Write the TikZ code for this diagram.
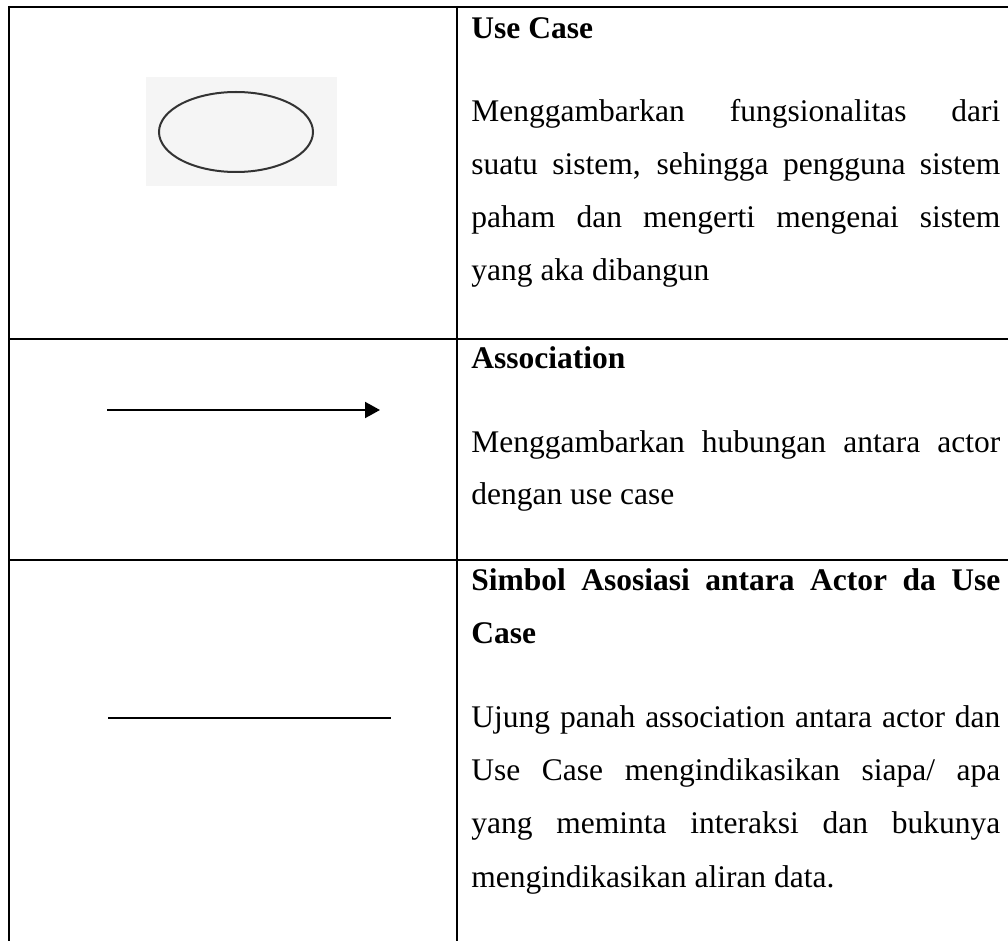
\documentclass[tikz,border=0pt]{standalone}
\usepackage{fontspec}
\setmainfont{Liberation Serif}
\usetikzlibrary{arrows.meta}
\newcommand\jline[1]{\makebox[264.5pt][s]{#1}}
\definecolor{bgGrey}{HTML}{F5F5F5}
\definecolor{ellGrey}{HTML}{333333}
\begin{document}
\begin{tikzpicture}[x=0.5pt,y=-0.5pt,
  rule/.style={line width=1pt, black},
  txt/.style={anchor=base west, inner sep=0pt, font=\fontsize{15.75}{18}\selectfont},
  head/.style={txt, font=\fontsize{15.75}{18}\selectfont\bfseries},
  sym/.style={line width=1pt, black},
]
\useasboundingbox (0,0) rectangle (1008,941);
% table rules
\draw[rule] (8,7) -- (1008,7);
\draw[rule] (8,339) -- (1008,339);
\draw[rule] (8,560) -- (1008,560);
\draw[rule] (9,6) -- (9,941);
\draw[rule] (457,6) -- (457,941);

% row 1 symbol: use case ellipse on grey background
\fill[bgGrey] (146,77) rectangle (337,186);
\draw[ellGrey, line width=1pt] (236,132) ellipse [x radius=77, y radius=40];

% row 2 symbol: association arrow
\coordinate (a1) at (107,410);
\coordinate (a2) at (380,410);
\draw[sym, -{Triangle[length=7.5pt, width=8pt]}] (a1) -- (a2);

% row 3 symbol: plain line
\coordinate (l1) at (108,718);
\coordinate (l2) at (391,718);
\draw[sym] (l1) -- (l2);

% row 1 text
\node[head] (h1) at (471,39) {Use Case};
\node[txt] (t11) at (471,122) {\jline{Menggambarkan fungsionalitas dari}};
\node[txt] (t12) at (471,175) {\jline{suatu sistem, sehingga pengguna sistem}};
\node[txt] (t13) at (471,228) {\jline{paham dan mengerti mengenai sistem}};
\node[txt] (t14) at (471,281) {yang aka dibangun};

% row 2 text
\node[head] (h2) at (471,369) {Association};
\node[txt] (t21) at (471,452) {\jline{Menggambarkan hubungan antara actor}};
\node[txt] (t22) at (471,505) {dengan use case};

% row 3 text
\node[head] (h3) at (471,590) {\jline{Simbol Asosiasi antara Actor da Use}};
\node[head] (h3b) at (471,643) {Case};
\node[txt] (t31) at (471,727) {\jline{Ujung panah association antara actor dan}};
\node[txt] (t32) at (471,780) {\jline{Use Case mengindikasikan siapa/ apa}};
\node[txt] (t33) at (471,833) {\jline{yang meminta interaksi dan bukunya}};
\node[txt] (t34) at (471,887) {mengindikasikan aliran data.};
\end{tikzpicture}
\end{document}
